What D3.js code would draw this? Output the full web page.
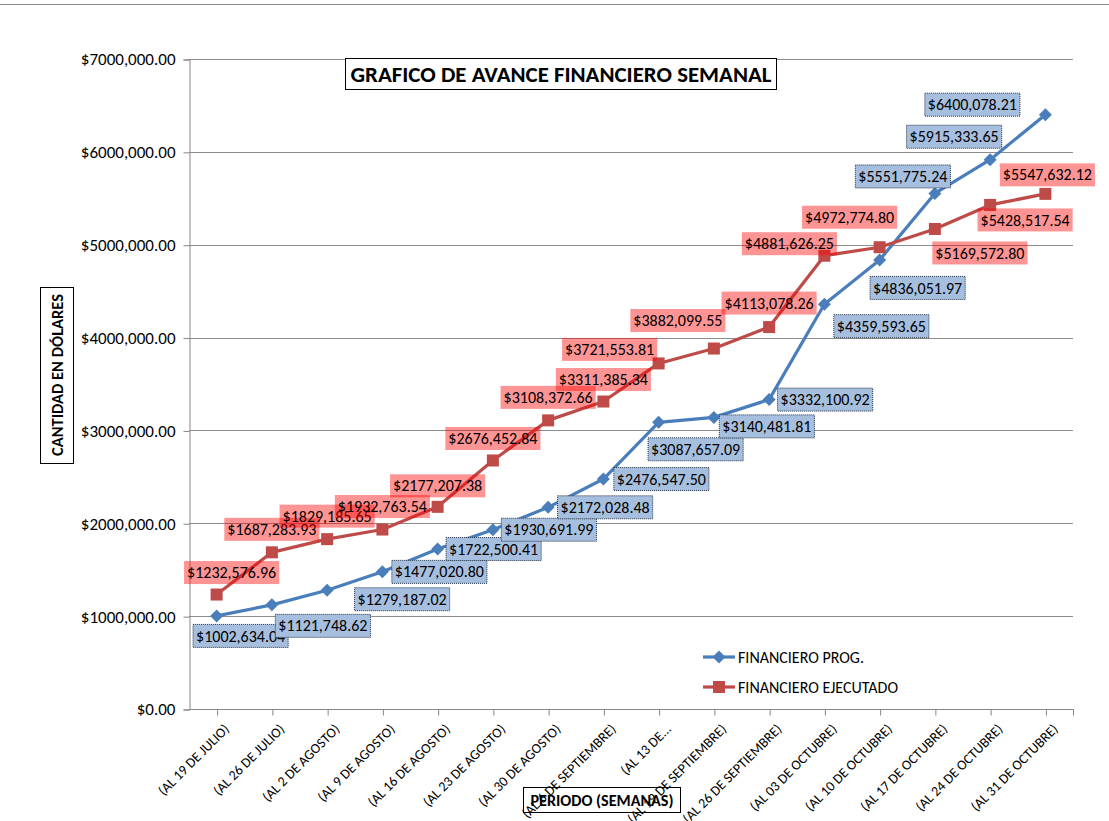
<!DOCTYPE html>
<html>
<head>
<meta charset="utf-8">
<script src="https://cdn.jsdelivr.net/npm/d3@7"></script>
<style>
  body { margin: 0; background: #fff; }
  svg text { font-family: Carlito, Lato, sans-serif; }
</style>
</head>
<body>
<div id="chart"></div>
<script>
// data
var categories = ['(AL 19 DE JULIO)', '(AL 26 DE JULIO)', '(AL 2 DE AGOSTO)', '(AL 9 DE AGOSTO)',
    '(AL 16 DE AGOSTO)', '(AL 23 DE AGOSTO)', '(AL 30 DE AGOSTO)', '(AL 6 DE SEPTIEMBRE)',
    '(AL 13 DE...', '(AL 19 DE SEPTIEMBRE)', '(AL 26 DE SEPTIEMBRE)', '(AL 03 DE OCTUBRE)',
    '(AL 10 DE OCTUBRE)', '(AL 17 DE OCTUBRE)', '(AL 24 DE OCTUBRE)', '(AL 31 DE OCTUBRE)'];
var programado = [1002634.04, 1121748.62, 1279187.02, 1477020.80, 1722500.41, 1930691.99, 2172028.48, 2476547.50,
    3087657.09, 3140481.81, 3332100.92, 4359593.65, 4836051.97, 5551775.24, 5915333.65, 6400078.21];
var ejecutado = [1232576.96, 1687283.93, 1829185.65, 1932763.54, 2177207.38, 2676452.84, 3108372.66, 3311385.34,
    3721553.81, 3882099.55, 4113078.26, 4881626.25, 4972774.80, 5169572.80, 5428517.54, 5547632.12];
var yTicks = [0, 1000000, 2000000, 3000000, 4000000, 5000000, 6000000, 7000000];
var seriesNames = ['FINANCIERO PROG.', 'FINANCIERO EJECUTADO'];

// label offsets from each point (dx, dy of label centre)
var progOffsets = [[24,20],[51,21],[75,9],[57,0],[56,0],[56,0],[57,0],[58,0],
    [37,27],[53,9],[56,0],[57,22],[38,28],[-32,-17],[-36,-23],[-73,-10]];
var ejecOffsets = [[15,-22],[0,-23],[0,-23],[0,-23],[0,-21],[0,-22],[0,-23],[0,-22],
    [-49,-14],[-36,-28],[0,-24],[-35,-12],[-30,-30],[45,24],[35,15],[2,-19]];

function money(v) {
    var cents = Math.round(v * 100),
        whole = Math.floor(cents / 100),
        frac = cents % 100,
        th = Math.floor(whole / 1000),
        rest = whole % 1000;
    return '$' + (th > 0 ? th + ',' + String(rest).padStart(3, '0') : rest) + '.' + String(frac).padStart(2, '0');
}

var width = 1109, height = 821,
    margins = { left: 189, right: 36, top: 59, bottom: 112 };

var svg = d3.select('#chart').append('svg')
    .attr('width', width).attr('height', height);

// chart border top line
svg.append('line').attr('x1', 0).attr('x2', width).attr('y1', 4.5).attr('y2', 4.5)
    .attr('stroke', '#8a8a8a').attr('stroke-width', 1);

var x = d3.scalePoint().domain(categories)
    .range([margins.left, width - margins.right]).padding(0.5);
var y = d3.scaleLinear().domain([0, 7000000])
    .range([height - margins.bottom, margins.top]);

// gridlines
svg.append('g').selectAll('line').data(yTicks.slice(1)).enter().append('line')
    .attr('x1', margins.left).attr('x2', width - margins.right)
    .attr('y1', function(d){ return Math.round(y(d)) + 0.5; })
    .attr('y2', function(d){ return Math.round(y(d)) + 0.5; })
    .attr('stroke', '#8c8c8c').attr('stroke-width', 1);

// y axis
var yAxis = svg.append('g')
    .attr('transform', 'translate(' + (margins.left + 0.5) + ',0.5)')
    .call(d3.axisLeft(y).tickValues(yTicks).tickFormat(money).tickSize(6).tickPadding(8));
yAxis.select('.domain').attr('stroke', '#868686');
yAxis.selectAll('.tick line').attr('stroke', '#868686');
yAxis.selectAll('.tick text').attr('font-size', 17).attr('fill', '#000')
    .attr('font-family', 'Carlito, Lato, sans-serif');

// x axis
var xAxis = svg.append('g')
    .attr('transform', 'translate(0.5,' + (height - margins.bottom + 0.5) + ')')
    .call(d3.axisBottom(x).tickSizeOuter(0).tickSize(6));
xAxis.select('.domain').attr('stroke', '#868686')
    .attr('d', 'M' + margins.left + ',0H' + (width - margins.right));
xAxis.append('line').attr('x1', width - margins.right).attr('x2', width - margins.right)
    .attr('y1', 0).attr('y2', 6).attr('stroke', '#868686');
xAxis.selectAll('.tick line').attr('stroke', '#868686');
xAxis.selectAll('.tick text')
    .attr('font-size', 14).attr('fill', '#000')
    .attr('font-family', 'Carlito, Lato, sans-serif')
    .attr('text-anchor', 'end')
    .attr('dy', 0)
    .attr('transform', 'translate(6,14) rotate(-45)');

// lines
var line = d3.line().x(function(d,i){ return x(categories[i]); }).y(function(d){ return y(d); });
var series = [
    { name: seriesNames[0], values: programado, color: '#4a7ebb', offsets: progOffsets, marker: 'diamond' },
    { name: seriesNames[1], values: ejecutado, color: '#be4b48', offsets: ejecOffsets, marker: 'square' }
];

function drawMarker(g, type, color) {
    if (type === 'diamond') {
        g.append('path').attr('d', 'M0,-6.5L6.5,0L0,6.5L-6.5,0Z').attr('fill', color);
    } else {
        g.append('rect').attr('x', -6).attr('y', -6).attr('width', 12).attr('height', 12).attr('fill', color);
    }
}

series.forEach(function(s){
    svg.append('path').datum(s.values)
        .attr('d', line).attr('fill', 'none')
        .attr('stroke', s.color).attr('stroke-width', 3.2).attr('stroke-linejoin', 'round');
    svg.append('g').selectAll('g').data(s.values).enter().append('g')
        .attr('transform', function(d,i){ return 'translate(' + x(categories[i]) + ',' + y(d) + ')'; })
        .each(function(){ drawMarker(d3.select(this), s.marker, s.color); });
});

// data labels
function drawLabels(s, blue) {
    var g = svg.append('g');
    s.values.forEach(function(v, i){
        var cx = x(categories[i]) + s.offsets[i][0],
            cy = y(v) + s.offsets[i][1];
        var lg = g.append('g').attr('transform', 'translate(' + cx + ',' + cy + ')');
        var rect = lg.append('rect');
        var t = lg.append('text').text(money(v))
            .attr('text-anchor', 'middle').attr('dy', '0.35em')
            .attr('font-size', 16).attr('fill', '#000');
        var w = t.node().getComputedTextLength() + 6, h = 23;
        rect.attr('x', -w/2).attr('y', -h/2).attr('width', w).attr('height', h);
        if (blue) {
            rect.attr('fill', '#a7bfde').attr('stroke', '#1f2f45').attr('stroke-width', 1)
                .attr('stroke-dasharray', '1,1');
        } else {
            rect.attr('fill', 'rgba(255,0,0,0.42)');
        }
    });
}
drawLabels(series[0], true);
drawLabels(series[1], false);

// title
svg.append('rect').attr('x', 345.5).attr('y', 58.5).attr('width', 431).attr('height', 31)
    .attr('fill', '#fff').attr('stroke', '#000');
svg.append('text').attr('x', 561).attr('y', 82).attr('text-anchor', 'middle')
    .attr('font-size', 22).attr('font-weight', 'bold')
    .attr('textLength', 421).attr('lengthAdjust', 'spacingAndGlyphs')
    .text('GRAFICO DE AVANCE FINANCIERO SEMANAL');

// y axis title
svg.append('rect').attr('x', 40.5).attr('y', 287.5).attr('width', 33).attr('height', 176)
    .attr('fill', 'none').attr('stroke', '#000');
svg.append('text').attr('transform', 'translate(63,375) rotate(-90)')
    .attr('text-anchor', 'middle').attr('font-size', 15).attr('font-weight', 'bold')
    .attr('textLength', 162).attr('lengthAdjust', 'spacingAndGlyphs')
    .text('CANTIDAD EN DÓLARES');

// x axis title
svg.append('rect').attr('x', 523.5).attr('y', 787.5).attr('width', 157).attr('height', 25)
    .attr('fill', 'none').attr('stroke', '#000');
svg.append('text').attr('x', 602).attr('y', 806).attr('text-anchor', 'middle')
    .attr('font-size', 16).attr('font-weight', 'bold')
    .attr('textLength', 143).attr('lengthAdjust', 'spacingAndGlyphs')
    .text('PERIODO (SEMANAS)');

// legend
var legend = svg.append('g').attr('transform', 'translate(703,657)');
series.forEach(function(s, i){
    var lg = legend.append('g').attr('transform', 'translate(0,' + (i * 30) + ')');
    lg.append('line').attr('x1', 0).attr('x2', 32).attr('stroke', s.color).attr('stroke-width', 3.2);
    var m = lg.append('g').attr('transform', 'translate(16,0)');
    drawMarker(m, s.marker, s.color);
    lg.append('text').attr('x', 35).attr('dy', '0.35em').attr('font-size', 16).text(s.name);
});
</script>
</body>
</html>
